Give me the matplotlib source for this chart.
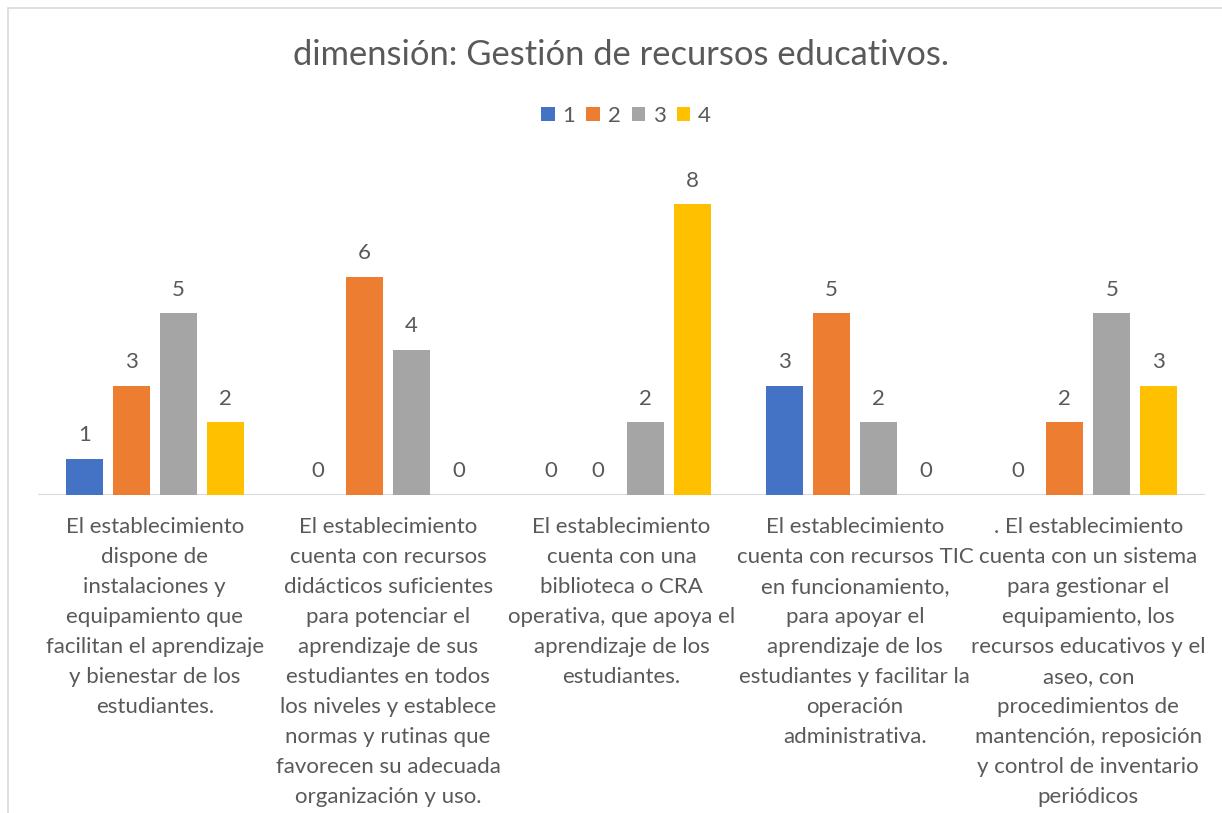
import matplotlib.pyplot as plt
from matplotlib.patches import Rectangle
import numpy as np

plt.rcParams['font.family'] = ['Lato', 'DejaVu Sans']

categorias = [
    "El establecimiento\ndispone de\ninstalaciones y\nequipamiento que\nfacilitan el aprendizaje\ny bienestar de los\nestudiantes.",
    "El establecimiento\ncuenta con recursos\ndidácticos suficientes\npara potenciar el\naprendizaje de sus\nestudiantes en todos\nlos niveles y establece\nnormas y rutinas que\nfavorecen su adecuada\norganización y uso.",
    "El establecimiento\ncuenta con una\nbiblioteca o CRA\noperativa, que apoya el\naprendizaje de los\nestudiantes.",
    "El establecimiento\ncuenta con recursos TIC\nen funcionamiento,\npara apoyar el\naprendizaje de los\nestudiantes y facilitar la\noperación\nadministrativa.",
    ". El establecimiento\ncuenta con un sistema\npara gestionar el\nequipamiento, los\nrecursos educativos y el\naseo, con\nprocedimientos de\nmantención, reposición\ny control de inventario\nperiódicos",
]
series = ["1", "2", "3", "4"]
valores = [
    [1, 0, 0, 3, 0],
    [3, 6, 0, 5, 2],
    [5, 4, 2, 2, 5],
    [2, 0, 8, 0, 3],
]
colores = ["#4472C4", "#ED7D31", "#A5A5A5", "#FFC000"]
texto = "#595959"

W, H = 1222, 813
fig = plt.figure(figsize=(W / 100, H / 100), dpi=100)

# marco del gráfico
fig.patches.append(Rectangle((8 / W, -0.1), 1.2, 1 - 8 / H + 0.1, transform=fig.transFigure,
                             fill=False, edgecolor="#D9D9D9", linewidth=1.2))

x0, x1 = 38, 1205
ybase, ytop = 495, 168
ax = fig.add_axes([x0 / W, 1 - ybase / H, (x1 - x0) / W, (ybase - ytop) / H])
ax.set_xlim(0, 5)
ax.set_ylim(0, 9)

x = np.arange(5) + 0.5
ancho = 0.1585
paso = 0.2014
for i, (serie, vals, c) in enumerate(zip(series, valores, colores)):
    pos = x + (i - 1.5) * paso
    bars = ax.bar(pos, vals, width=ancho, color=c, label=serie)
    for p, v in zip(pos, vals):
        ax.annotate(str(v), (p, v), xytext=(0, 17), textcoords="offset points",
                    ha="center", va="center", fontsize=16, color=texto)

for s in ax.spines.values():
    s.set_visible(False)
ax.axhline(0, color="#D9D9D9", linewidth=1.5, zorder=0)
ax.set_yticks([])
ax.set_xticks(x)
ax.set_xticklabels(categorias, fontsize=16, color=texto, linespacing=1.62, va="top")
ax.tick_params(axis="x", length=0, pad=16)

fig.text(621 / W, 1 - 55 / H, "dimensión: Gestión de recursos educativos.",
         ha="center", va="center", fontsize=24.8, color=texto)
fig.legend(loc="center", bbox_to_anchor=(626 / W, 1 - 116 / H), ncol=4, frameon=False,
           fontsize=16, labelcolor=texto, handlelength=0.6, handleheight=0.6,
           handletextpad=0.35, columnspacing=0.5)

fig.savefig("out.png", dpi=100)
